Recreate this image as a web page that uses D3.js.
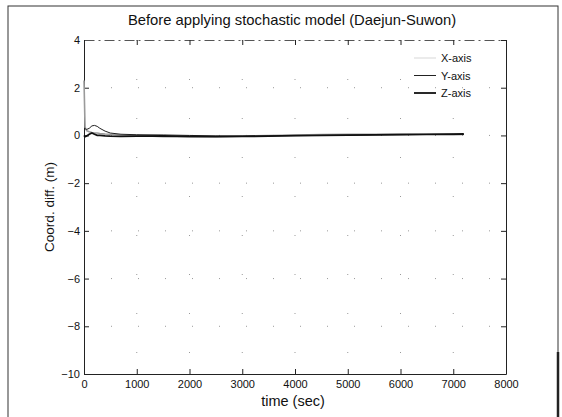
<!DOCTYPE html>
<html lang="en">
<head>
<meta charset="UTF-8">
<title>Before applying stochastic model (Daejun-Suwon)</title>
<script src="https://d3js.org/d3.v7.min.js"></script>
<style>
  body { margin: 0; background: #fff; }
  text { font-family: "Liberation Sans", Arial, sans-serif; fill: #111; }
</style>
</head>
<body>
<svg id="chart" width="562" height="417"></svg>
<script>
// time samples (sec) and coordinate differences (m)
const times = [0, 20, 50, 100, 150, 200, 250, 300, 400, 500, 700, 1000, 1500, 2000, 2500, 3000, 3500, 4000, 4500, 5000, 5500, 6000, 6500, 7000, 7200];
const xAxisDiff = [2.3, 0.35, 0.2, 0.15, 0.12, 0.1, 0.1, 0.08, 0.06, 0.05, 0.02, 0.0, -0.05, -0.06, -0.05, -0.03, 0.0, 0.02, 0.04, 0.05, 0.05, 0.06, 0.05, 0.05, 0.04];
const yAxisDiff = [0.3, 0.28, 0.25, 0.3, 0.4, 0.42, 0.38, 0.3, 0.18, 0.1, 0.05, 0.03, 0.02, 0.0, -0.02, -0.03, -0.02, -0.01, 0.0, 0.01, 0.02, 0.03, 0.04, 0.05, 0.05];
const zAxisDiff = [0.0, -0.05, -0.02, 0.05, 0.1, 0.05, 0.0, 0.0, -0.02, -0.03, -0.04, -0.03, -0.02, -0.04, -0.05, -0.04, -0.03, -0.01, 0.0, 0.01, 0.02, 0.03, 0.04, 0.05, 0.06];
const seriesNames = ["X-axis", "Y-axis", "Z-axis"];
const xTicks = [0, 1000, 2000, 3000, 4000, 5000, 6000, 7000, 8000];
const yTicks = [4, 2, 0, -2, -4, -6, -8, -10];

const svg = d3.select("#chart");
const margin = {top: 40, right: 56, bottom: 43, left: 84};
const width = 562 - margin.left - margin.right;
const height = 417 - margin.top - margin.bottom;

// outer figure frame
svg.append("rect")
    .attr("x", 8).attr("y", 6)
    .attr("width", 550).attr("height", 420)
    .attr("fill", "none").attr("stroke", "#333").attr("stroke-width", 1);
svg.append("line")
    .attr("x1", 558).attr("x2", 558).attr("y1", 352).attr("y2", 417)
    .attr("stroke", "#222").attr("stroke-width", 2.5);

const g = svg.append("g").attr("transform", `translate(${margin.left},${margin.top})`);

const x = d3.scaleLinear().domain([0, 8000]).range([0, width]);
const y = d3.scaleLinear().domain([-10, 4]).range([height, 0]);

// faint dotted grid
g.append("g").selectAll("line")
    .data(xTicks.slice(1, -1))
    .join("line")
    .attr("x1", d => x(d)).attr("x2", d => x(d))
    .attr("y1", 0).attr("y2", height)
    .attr("stroke", "#999").attr("stroke-width", 1)
    .attr("stroke-dasharray", "1,38");
g.append("g").selectAll("line")
    .data(yTicks.slice(1, -1))
    .join("line")
    .attr("x1", 0).attr("x2", width)
    .attr("y1", d => y(d)).attr("y2", d => y(d))
    .attr("stroke", "#999").attr("stroke-width", 1)
    .attr("stroke-dasharray", "1,26");

// axes with inward ticks, MATLAB style box
const fmt = d3.format("d");
const axB = g.append("g").attr("transform", `translate(0,${height})`)
    .call(d3.axisBottom(x).tickValues(xTicks).tickFormat(fmt).tickSizeInner(-5).tickSizeOuter(0).tickPadding(4));
const axL = g.append("g")
    .call(d3.axisLeft(y).tickValues(yTicks).tickFormat(fmt).tickSizeInner(-5).tickSizeOuter(0).tickPadding(4));
const axT = g.append("g")
    .call(d3.axisTop(x).tickValues(xTicks).tickFormat("").tickSizeInner(-5).tickSizeOuter(0));
const axR = g.append("g").attr("transform", `translate(${width},0)`)
    .call(d3.axisRight(y).tickValues(yTicks).tickFormat("").tickSizeInner(-5).tickSizeOuter(0));
[axB, axL, axT, axR].forEach(a => {
    a.selectAll("path, line").attr("stroke", "#222");
    a.selectAll("text").style("font-size", "11px").attr("fill", "#111");
});
axB.selectAll("text").attr("dy", "0.9em");
axT.select("path").attr("stroke-dasharray", "10,4,2,4").attr("stroke", "#555");

// data lines
const colors = ["#9a9a9a", "#222", "#111"];
const widths = [1.6, 1, 1.8];
const dataSets = [xAxisDiff, yAxisDiff, zAxisDiff];
const line = d3.line().x((d, i) => x(times[i])).y(d => y(d));
g.selectAll("path.series")
    .data(dataSets)
    .join("path")
    .attr("class", "series")
    .attr("fill", "none")
    .attr("stroke", (d, i) => colors[i])
    .attr("stroke-width", (d, i) => widths[i])
    .attr("d", line);

// legend
const legend = g.append("g").attr("transform", `translate(${width - 92}, 18)`);
const legendItem = legend.selectAll(".legend-item")
    .data(seriesNames)
    .join("g")
    .attr("class", "legend-item")
    .attr("transform", (d, i) => `translate(0, ${i * 17.5})`);
legendItem.append("line")
    .attr("x1", 0).attr("x2", 22)
    .attr("stroke", (d, i) => i === 0 ? "#e6e6e6" : colors[i])
    .attr("stroke-width", (d, i) => widths[i]);
legendItem.append("text")
    .attr("x", 27).attr("y", 4)
    .style("font-size", "11px")
    .text(d => d);

// title and axis labels
svg.append("text")
    .attr("x", margin.left + width / 2 - 3).attr("y", 25)
    .attr("text-anchor", "middle")
    .style("font-size", "14.8px")
    .text("Before applying stochastic model (Daejun-Suwon)");
svg.append("text")
    .attr("x", margin.left + width / 2 - 2).attr("y", 406)
    .attr("text-anchor", "middle")
    .style("font-size", "14.5px")
    .text("time (sec)");
svg.append("text")
    .attr("transform", `translate(54,${margin.top + height / 2}) rotate(-90)`)
    .attr("text-anchor", "middle")
    .style("font-size", "13.5px")
    .text("Coord. diff. (m)");
</script>
</body>
</html>
